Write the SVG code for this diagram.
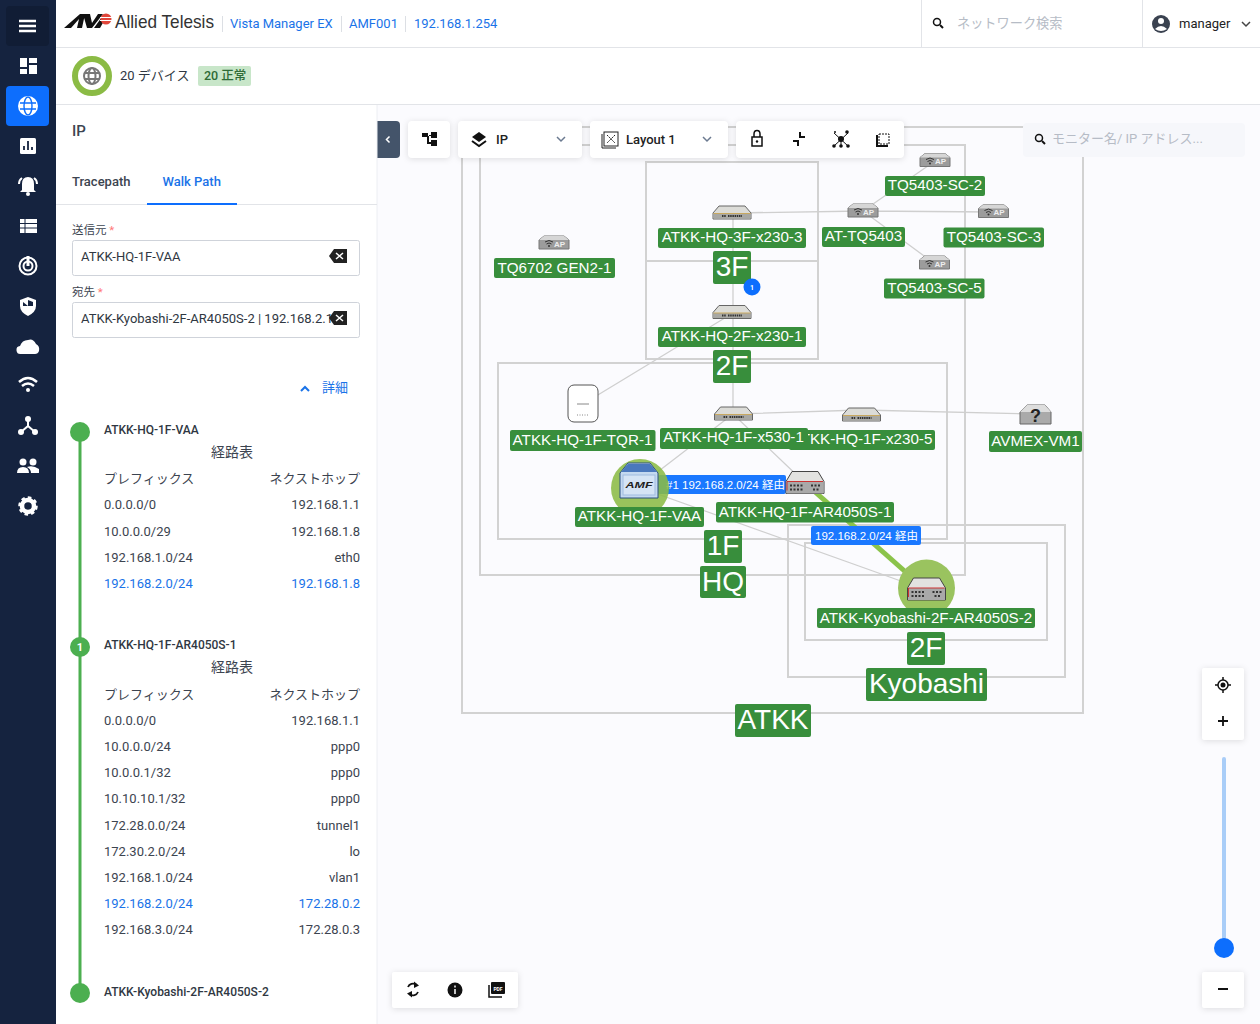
<svg xmlns="http://www.w3.org/2000/svg" xmlns:xlink="http://www.w3.org/1999/xlink" width="1260" height="1024" viewBox="0 0 1260 1024">
<style>
text{font-family:Roboto,"Noto Sans CJK JP",sans-serif}
.n{font-family:"Liberation Sans","Noto Sans CJK JP",sans-serif;font-size:15.2px;fill:#fff;text-anchor:middle}
.b{font-family:"Liberation Sans",sans-serif;font-size:28px;fill:#fff;text-anchor:middle}
.lb{fill:#388e3c}
.grp{fill:none;stroke:#d2d2d2;stroke-width:2}
.e{stroke:#cfcfcf;stroke-width:1.300;fill:none}
.bl{font-family:"Liberation Sans","Noto Sans CJK JP",sans-serif;font-size:11.500px;fill:#fff}
.t{font-size:13px;fill:#3c4450}
.r{font-size:13px;fill:#3c4450;text-anchor:end}
.h{font-size:13px;fill:#3c4450}
.hr{font-size:13px;fill:#3c4450;text-anchor:end}
.hc{font-size:14px;fill:#3c4450;text-anchor:middle}
.a{fill:#1a73e8}
.card{fill:#fff;filter:drop-shadow(0 1px 3px rgba(0,0,0,.12))}
.w{fill:#fff}
.ws{fill:none;stroke:#fff;stroke-width:2}
.d{fill:#111}
.ds{fill:none;stroke:#111;stroke-width:2}
.nm{font-size:12px;font-weight:500;fill:#2f3742}
</style>
<defs>
<g id="sw">
<path d="M-13-7H13L19 0V6H-19V0Z" fill="#dcdcd8" stroke="#666" stroke-width="1"/>
<rect x="-18.500" y="0.500" width="37" height="5" fill="#a8a8a4"/>
<path d="M-18.500 0.500H18.500" stroke="#c8a860" stroke-width="1"/>
<path d="M-10 3H-6M-4 3H10" stroke="#333" stroke-width="2" stroke-dasharray="1.500 .7"/>
</g>
<g id="ap">
<path d="M-10-7H10L15-3V6H-15V-3Z" fill="#9c9c9c" stroke="#777" stroke-width="1"/>
<path d="M-10-7H10L15-3H-15Z" fill="#d6d6d6"/>
<path d="M-9-1Q-5-4-1-1M-7.500 1Q-5-1-2.500 1" stroke="#333" stroke-width="1" fill="none"/><circle cx="-5" cy="3" r="1" fill="#333"/>
<text x="0" y="3.500" font-size="8" font-weight="700" fill="#eee" style="font-family:'Liberation Sans',sans-serif">AP</text>
</g>
<g id="rt">
<path d="M-13-11H13L19-1V11H-19V-1Z" fill="#e2e2e0" stroke="#444" stroke-width="1"/>
<rect x="-18.500" y="-1" width="37" height="12" fill="#a9a9a9"/>
<path d="M-18-1H18M-18-1V8" stroke="#c33" stroke-width="1" fill="none"/>
<path d="M-15 3H-1M-15 7H-1M6 3H15M8 7H15" stroke="#333" stroke-width="2" stroke-dasharray="2 1.500"/>
</g>
<g id="glb" fill="none" stroke-width="2"><circle r="8"/><ellipse rx="3.500" ry="8"/><path d="M-8-3H8M-8 3H8"/></g>
</defs>

<rect width="1260" height="1024" fill="#fbfbfe"/>

<g id="canvas-groups">
<rect class="grp" x="462" y="127" width="621" height="586"/>
<rect class="grp" x="480" y="145" width="485" height="430"/>
<rect class="grp" x="646" y="162" width="172" height="99"/>
<rect class="grp" x="646" y="261" width="172" height="98"/>
<rect class="grp" x="498" y="363" width="449" height="176"/>
<rect class="grp" x="788" y="525" width="277" height="152"/>
<rect class="grp" x="805" y="543" width="242" height="97"/>
</g>

<g id="connectors">
<path class="e" d="M733 213L863 211M733 213V414M863 211L935 161M863 211L993 212M863 211L935 264M733 313L583 404M733 414L861 410L1035 414M733 414L638 487M733 414L805 483"/>
<path d="M638 487L926 590" stroke="#cfcfcf" stroke-width="1.200" fill="none"/>
<path d="M805 483L926 590" stroke="#8bc34a" stroke-width="5" fill="none"/>
</g>

<g id="hop-1"><rect x="658" y="475" width="128" height="19" rx="2" fill="#1a78ff"/><text class="bl" x="666" y="488.500">#1 192.168.2.0/24 経由</text></g>
<circle cx="640" cy="488" r="29" fill="#8bbb45" opacity=".88"/>
<circle cx="926.500" cy="588" r="28.500" fill="#9ac35f"/>

<g id="tq6702"><use xlink:href="#ap" x="554" y="243"/><rect class="lb" x="494" y="258" width="121" height="20" rx="2"/><text class="n" x="554.500" y="272.500">TQ6702 GEN2-1</text></g>
<g id="x230-3"><use xlink:href="#sw" x="732" y="213"/><rect class="lb" x="658" y="228" width="148" height="20" rx="2"/><text class="n" x="732" y="242">ATKK-HQ-3F-x230-3</text></g>
<g id="floor-3f"><rect class="lb" x="713" y="251" width="38" height="33" rx="2"/><text class="b" x="732" y="276">3F</text></g>
<g id="badge-1"><circle cx="752" cy="287" r="8.500" fill="#0d6efd"/><text x="752" y="289.500" font-size="7" font-weight="700" fill="#fff" text-anchor="middle">1</text></g>
<g id="x230-1"><use xlink:href="#sw" x="732" y="312.500"/><rect class="lb" x="658" y="327" width="148" height="20" rx="2"/><text class="n" x="732" y="341">ATKK-HQ-2F-x230-1</text></g>
<g id="floor-2f"><rect class="lb" x="713" y="350" width="38" height="33" rx="2"/><text class="b" x="732" y="375">2F</text></g>
<g id="at-tq5403"><use xlink:href="#ap" x="863" y="211"/><rect class="lb" x="822" y="227" width="83" height="20" rx="2"/><text class="n" x="863.500" y="241">AT-TQ5403</text></g>
<g id="sc-2"><use xlink:href="#ap" x="935" y="160.500"/><rect class="lb" x="885" y="176" width="100" height="20" rx="2"/><text class="n" x="935" y="190">TQ5403-SC-2</text></g>
<g id="sc-3"><use xlink:href="#ap" x="993.500" y="211.500"/><rect class="lb" x="943.500" y="227.500" width="100.500" height="20" rx="2"/><text class="n" x="994" y="241.500">TQ5403-SC-3</text></g>
<g id="sc-5"><use xlink:href="#ap" x="934.500" y="263"/><rect class="lb" x="884" y="278.500" width="100.500" height="20" rx="2"/><text class="n" x="934.500" y="292.500">TQ5403-SC-5</text></g>
<g id="tqr-1"><rect x="568" y="385" width="30" height="37" rx="6" fill="#fff" stroke="#555"/><path d="M577 404H589" stroke="#888"/><path d="M577 415H589" stroke="#888" stroke-dasharray="1 1.500"/><rect class="lb" x="510" y="430" width="145.500" height="21" rx="2"/><text class="n" x="582.500" y="444.500">ATKK-HQ-1F-TQR-1</text></g>
<g id="x230-5"><use xlink:href="#sw" x="861.500" y="415"/><rect class="lb" x="789" y="430" width="146" height="20" rx="2"/><text class="n" x="862" y="444">ATKK-HQ-1F-x230-5</text></g>
<g id="x530-1"><use xlink:href="#sw" x="733.500" y="414"/><rect class="lb" x="660" y="428" width="148" height="21" rx="2"/><text class="n" x="733.500" y="442">ATKK-HQ-1F-x530-1</text></g>
<g id="avmex"><path d="M1027 405H1045L1051 412V424H1020V412Z" fill="#aaa" stroke="#666"/><path d="M1027 405H1045L1051 412H1020Z" fill="#ddd"/><text x="1035.500" y="422" font-size="18" font-weight="700" fill="#222" text-anchor="middle" style="font-family:'Liberation Sans',sans-serif">?</text><rect class="lb" x="989" y="431" width="93" height="21" rx="2"/><text class="n" x="1035.500" y="446">AVMEX-VM1</text></g>
<g id="vaa"><path d="M628 463H650L658 473V498H620V473Z" fill="#c4d9f0" stroke="#2a4f80" stroke-width="1"/><path d="M628 464H650L657 472H621Z" fill="#4a78bd"/><rect x="623" y="475" width="32" height="20" fill="#d5e4f5" stroke="#9fbce0"/><text x="639" y="488" font-size="9" font-weight="700" font-style="italic" fill="#222" text-anchor="middle" textLength="27" lengthAdjust="spacingAndGlyphs" style="font-family:'Liberation Sans',sans-serif">AMF</text><rect class="lb" x="575" y="507" width="129" height="20" rx="2"/><text class="n" x="639.500" y="521">ATKK-HQ-1F-VAA</text></g>
<g id="ar-1"><use xlink:href="#rt" x="805" y="482.500"/><rect class="lb" x="716" y="502" width="178" height="20.500" rx="2"/><text class="n" x="805" y="516.500">ATKK-HQ-1F-AR4050S-1</text></g>
<g id="hop-2"><rect x="811" y="526" width="110" height="19" rx="2" fill="#1a78ff"/><text class="bl" x="815" y="539.500">192.168.2.0/24 経由</text></g>
<g id="floor-1f"><rect class="lb" x="704" y="530" width="38" height="33" rx="2"/><text class="b" x="723" y="555">1F</text></g>
<g id="site-hq"><rect class="lb" x="700" y="566" width="46" height="32" rx="2"/><text class="b" x="723" y="591">HQ</text></g>
<g id="ar-2"><use xlink:href="#rt" x="926.500" y="589"/><rect class="lb" x="817" y="608" width="218" height="20" rx="2"/><text class="n" x="926" y="622.500">ATKK-Kyobashi-2F-AR4050S-2</text></g>
<g id="floor-k2f"><rect class="lb" x="907" y="632" width="38" height="33" rx="2"/><text class="b" x="926" y="657">2F</text></g>
<g id="site-kyobashi"><rect class="lb" x="866" y="668" width="121" height="33" rx="2"/><text class="b" x="926.500" y="693">Kyobashi</text></g>
<g id="site-atkk"><rect class="lb" x="735" y="704" width="76" height="33" rx="2"/><text class="b" x="773" y="729">ATKK</text></g>

<g id="toolbar">
<path d="M376 121H396Q400 121 400 125V154Q400 158 396 158H376Z" fill="#44546a"/>
<path d="M389.500 136.500L386.500 139.500L389.500 142.500" fill="none" stroke="#fff" stroke-width="1.500"/>
<rect class="card" x="408" y="121" width="42" height="37" rx="4"/>
<path d="M422 133H428V136H431V132H437V138H431V135H429V142H431V140H437V146H431V144H427V137H422Z" class="d"/>
<rect class="card" x="458" y="121" width="124" height="37" rx="4"/>
<path d="M479 132L486 137L479 142L472 137Z" class="d"/><path d="M472 141L479 146L486 141" class="ds"/>
<text x="496" y="144" font-size="13" font-weight="500" fill="#222">IP</text>
<path d="M557 137L561 141L565 137" fill="none" stroke="#6b7a90" stroke-width="1.500"/>
<rect class="card" x="590" y="121" width="138" height="37" rx="4"/>
<rect x="604" y="132" width="14" height="14" fill="#fff" stroke="#222"/><path d="M602 134V148H616" fill="none" stroke="#222"/><path d="M607 135L615 143M615 135L607 143" stroke="#222" stroke-dasharray="2 1"/>
<text x="626" y="144" font-size="13" font-weight="500" fill="#222">Layout 1</text>
<path d="M703 137L707 141L711 137" fill="none" stroke="#6b7a90" stroke-width="1.500"/>
<rect class="card" x="736" y="121" width="168" height="37" rx="4"/>
<rect x="752" y="137" width="10" height="9" fill="none" stroke="#111" stroke-width="1.500"/><path d="M754 137V134Q754 130.500 757 130.500Q760 130.500 760 134V137" fill="none" stroke="#111" stroke-width="1.500"/><circle cx="757" cy="141.500" r="1.200" class="d"/>
<path d="M793 141H798V146M805 137H800V132" fill="none" stroke="#111" stroke-width="2"/>
<path d="M834 133L848 146M848 133L834 146M841 139V146" stroke="#111" stroke-width="1"/><circle cx="841" cy="139" r="3" class="d"/><circle cx="834" cy="146" r="1.800" class="d"/><circle cx="847" cy="132" r="1.800" class="d"/><circle cx="835" cy="132" r="1" class="d"/><circle cx="848" cy="146" r="1.800" class="d"/><circle cx="841" cy="146" r="1.800" class="d"/>
<rect x="879" y="134" width="10" height="10" fill="none" stroke="#111" stroke-dasharray="2 1"/><path d="M877 135V146H888" fill="none" stroke="#111" stroke-width="2"/>
<g id="map-search"><rect x="1023" y="123" width="222" height="34" rx="4" fill="#f6f7fb"/>
<circle cx="1039" cy="138" r="3.500" fill="none" stroke="#111" stroke-width="1.500"/><path d="M1042 141L1045 144" stroke="#111" stroke-width="2"/>
<text x="1052" y="143" font-size="13" fill="#b6bcc6">モニター名/ IP アドレス...</text></g>
</g>

<g id="zoom-controls">
<rect class="card" x="1202" y="668" width="42" height="72" rx="2"/>
<circle cx="1223" cy="685" r="5" fill="none" stroke="#111" stroke-width="1.500"/><circle cx="1223" cy="685" r="2.500" class="d"/><path d="M1223 677V680M1223 690V693M1215 685H1218M1228 685H1231" stroke="#111" stroke-width="1.500"/>
<path d="M1218 721H1228M1223 716V726" stroke="#111" stroke-width="1.800"/>
<rect x="1222" y="757" width="4" height="185" rx="2" fill="#a9cdf8"/>
<circle cx="1224" cy="948" r="10" fill="#0d6efd"/>
<rect class="card" x="1202" y="972" width="42" height="36" rx="2"/>
<path d="M1218 989H1228" stroke="#111" stroke-width="2"/>
</g>
<g id="bottom-tools">
<rect class="card" x="392" y="972" width="126" height="36" rx="2"/>
<path d="M408 987A5.500 5.500 0 0 1 416 984.500M418 992A5.500 5.500 0 0 1 410 994.500" fill="none" stroke="#111" stroke-width="1.800" transform="translate(0 0)"/><path d="M414 981.500L419 985.500L414 988Z" class="d"/><path d="M412 997.500L407 993.500L412 991Z" class="d"/>
<circle cx="455" cy="990" r="7.500" class="d"/><path d="M455 989V994M455 985.500V987.500" stroke="#fff" stroke-width="1.500"/>
<rect x="491" y="982" width="14" height="12" rx="1" class="d"/><path d="M489 985V997H502" fill="none" stroke="#111" stroke-width="1.500"/><text x="498" y="990.500" font-size="5" font-weight="700" fill="#fff" text-anchor="middle">PDF</text>
</g>

<g id="left-panel">
<rect x="56" y="105" width="321" height="919" fill="#fff"/>
<path d="M377 105V1024" stroke="#eceef2"/>
<text x="72" y="136" font-size="15" font-weight="500" fill="#3c4450">IP</text>
<text x="72" y="186" font-size="13" font-weight="500" fill="#3c4450">Tracepath</text>
<text x="162.500" y="186" font-size="13" font-weight="500" fill="#1a73e8">Walk Path</text>
<path d="M56 204.500H377" stroke="#e2e4e8"/>
<rect x="147" y="203" width="90" height="2" fill="#0d6efd"/>
<text x="72" y="234" font-size="11.500" fill="#3c4450">送信元 <tspan fill="#f77">*</tspan></text>
<rect x="72.500" y="240.500" width="287" height="35" rx="2" fill="#fff" stroke="#cfd3da"/>
<text x="81" y="261" font-size="13" fill="#2f3742">ATKK-HQ-1F-VAA</text>
<path d="M334 249H347V263H334L329 256Z" fill="#222"/><path d="M336 253L343 259M343 253L336 259" stroke="#fff" stroke-width="1.500"/>
<text x="72" y="296" font-size="11.500" fill="#3c4450">宛先 <tspan fill="#f77">*</tspan></text>
<rect x="72.500" y="302.500" width="287" height="35" rx="2" fill="#fff" stroke="#cfd3da"/>
<text x="81" y="323" font-size="13" fill="#2f3742">ATKK-Kyobashi-2F-AR4050S-2 | 192.168.2.1</text>
<path d="M334 311H347V325H334L329 318Z" fill="#222"/><path d="M336 315L343 321M343 315L336 321" stroke="#fff" stroke-width="1.500"/>
<path d="M301 391L305 387L309 391" fill="none" stroke="#1a73e8" stroke-width="2"/>
<text x="322" y="392" font-size="13" fill="#1a73e8">詳細</text>

<path d="M80 432V993" stroke="#4caf50" stroke-width="3"/>
<circle cx="80" cy="432" r="10" fill="#4caf50"/>
<circle cx="80" cy="647" r="10" fill="#4caf50"/><text x="80" y="651" font-size="11" font-weight="700" fill="#fff" text-anchor="middle">1</text>
<circle cx="80" cy="993" r="10" fill="#4caf50"/>

<text class="nm" x="104" y="434">ATKK-HQ-1F-VAA</text>
<text class="hc" x="232" y="457">経路表</text>
<text class="h" x="104" y="483">プレフィックス</text><text class="hr" x="360" y="483">ネクストホップ</text>
<text class="t" x="104" y="509">0.0.0.0/0</text><text class="r" x="360" y="509">192.168.1.1</text>
<text class="t" x="104" y="536">10.0.0.0/29</text><text class="r" x="360" y="536">192.168.1.8</text>
<text class="t" x="104" y="562">192.168.1.0/24</text><text class="r" x="360" y="562">eth0</text>
<text class="t a" x="104" y="588">192.168.2.0/24</text><text class="r a" x="360" y="588">192.168.1.8</text>

<text class="nm" x="104" y="649">ATKK-HQ-1F-AR4050S-1</text>
<text class="hc" x="232" y="672">経路表</text>
<text class="h" x="104" y="699">プレフィックス</text><text class="hr" x="360" y="699">ネクストホップ</text>
<text class="t" x="104" y="725">0.0.0.0/0</text><text class="r" x="360" y="725">192.168.1.1</text>
<text class="t" x="104" y="751">10.0.0.0/24</text><text class="r" x="360" y="751">ppp0</text>
<text class="t" x="104" y="777">10.0.0.1/32</text><text class="r" x="360" y="777">ppp0</text>
<text class="t" x="104" y="803">10.10.10.1/32</text><text class="r" x="360" y="803">ppp0</text>
<text class="t" x="104" y="830">172.28.0.0/24</text><text class="r" x="360" y="830">tunnel1</text>
<text class="t" x="104" y="856">172.30.2.0/24</text><text class="r" x="360" y="856">lo</text>
<text class="t" x="104" y="882">192.168.1.0/24</text><text class="r" x="360" y="882">vlan1</text>
<text class="t a" x="104" y="908">192.168.2.0/24</text><text class="r a" x="360" y="908">172.28.0.2</text>
<text class="t" x="104" y="934">192.168.3.0/24</text><text class="r" x="360" y="934">172.28.0.3</text>
<text class="nm" x="104" y="996">ATKK-Kyobashi-2F-AR4050S-2</text>
</g>

<g id="status-bar">
<rect x="56" y="48" width="1204" height="57" fill="#fff"/>
<path d="M56 104.500H1260" stroke="#e2e4e8"/>
<circle cx="92" cy="76" r="17" fill="#fff" stroke="#8bbb45" stroke-width="6"/>
<use xlink:href="#glb" x="92" y="76" stroke="#777"/>
<text x="120" y="80" font-size="13" fill="#2f3742">20 デバイス</text>
<rect x="198" y="66" width="53" height="20" rx="2" fill="#c8e6c9"/>
<text x="204" y="80" font-size="12.500" font-weight="500" fill="#2e6b36">20 正常</text>
</g>

<g id="header">
<rect x="56" width="1204" height="47" fill="#fff"/>
<path d="M56 47.500H1260" stroke="#e2e4e8"/>
<path d="M64 28L80 14H85L82 28H77L79 19L71 28ZM83 14H90L92 23L98 14H103L92 28H87ZM94 28L104 14H108L100 28Z" fill="#111"/>
<circle cx="106" cy="19" r="5.500" fill="#e0453a"/><path d="M100 17.500H112M100 20.500H112" stroke="#fff"/>
<text x="115" y="28" font-size="19" fill="#333" textLength="99" lengthAdjust="spacingAndGlyphs" style="font-family:'Liberation Sans',sans-serif">Allied Telesis</text>
<path d="M222.500 16V32M341.500 16V32M405.500 16V32" stroke="#dcdfe4"/>
<text x="230" y="28" font-size="13" fill="#1a73e8">Vista Manager EX</text>
<text x="349" y="28" font-size="13" fill="#1a73e8">AMF001</text>
<text x="414" y="28" font-size="13" fill="#1a73e8">192.168.1.254</text>
<path d="M921.500 0V47M1142.500 0V47" stroke="#e2e4e8"/>
<circle cx="937" cy="22" r="3.500" fill="none" stroke="#111" stroke-width="1.500"/><path d="M940 25L943 28" stroke="#111" stroke-width="2"/>
<text x="957" y="28" font-size="13.200" fill="#b6bcc6">ネットワーク検索</text>
<circle cx="1161" cy="24" r="9" fill="#3a4250"/><circle cx="1161" cy="21" r="3" fill="#fff"/><path d="M1155 29Q1161 23 1167 29Q1161 33 1155 29Z" fill="#fff"/>
<text x="1179" y="28" font-size="13" font-weight="400" fill="#222">manager</text>
<path d="M1242 22L1246 26L1250 22" fill="none" stroke="#444" stroke-width="1.500"/>
</g>

<g id="sidebar">
<rect width="56" height="1024" fill="#15233f"/>
<rect x="6" y="6" width="43" height="40" rx="4" fill="#111d35"/>
<path d="M19 21H36M19 26H36M19 31H36" stroke="#fff" stroke-width="2.500"/>
<path d="M20 58H27V67H20ZM29 58H37V63H29ZM20 69H27V74H20ZM29 65H37V74H29Z" class="w"/>
<rect x="6" y="86" width="43" height="40" rx="4" fill="#0d6efd"/>
<circle cx="28" cy="106" r="10" fill="#fff"/><g fill="none" stroke="#0d6efd" stroke-width="1.400"><ellipse cx="28" cy="106" rx="4" ry="9"/><path d="M20 103H36M20 109H36"/></g>
<rect x="20" y="138" width="16" height="16" rx="1.500" class="w"/><path d="M24 150V146M28 150V141M32 150V147" stroke="#15233f" stroke-width="1.800"/>
<path d="M28 177Q34 177 34 184V190L36 192H20L22 190V184Q22 177 28 177Z" class="w"/><circle cx="28" cy="194" r="2" class="w"/><path d="M19 184Q19 180 22 178M37 184Q37 180 34 178" class="ws"/>
<rect x="20" y="219" width="17" height="14" class="w"/><path d="M20 223.500H37M20 228H37M25 219V233" stroke="#15233f"/>
<circle cx="28" cy="266" r="8.500" class="ws"/><circle cx="28" cy="266" r="4.500" class="ws"/><path d="M28 256V266" stroke="#fff" stroke-width="3"/>
<path d="M28 297L36 300V306Q36 312 28 316Q20 312 20 306V300Z" class="w"/><path d="M28 300L33 302V306H28ZM28 306H23V302" fill="#15233f"/>
<path d="M21 354A4 4 0 0 1 20 346Q22 340 28 340Q33 338 36 344Q40 346 39 351Q38 354 35 354Z" class="w"/>
<path d="M19 382Q28 374 37 382M22 386Q28 381 34 386" fill="none" stroke="#fff" stroke-width="2.500"/><circle cx="28" cy="390" r="2" class="w"/>
<circle cx="28" cy="419" r="3" class="w"/><circle cx="21" cy="432" r="3" class="w"/><circle cx="35" cy="432" r="3" class="w"/><path d="M28 419V426L21 432M28 426L35 432" class="ws"/>
<circle cx="23" cy="462" r="3.500" class="w"/><circle cx="33" cy="462" r="3.500" class="w"/><path d="M17 473Q17 467 23 467Q29 467 29 473ZM27 467Q33 465 39 469V473H31Q31 469 27 467Z" class="w"/>
<circle cx="28" cy="506" r="6" fill="none" stroke="#fff" stroke-width="4.500"/><circle cx="28" cy="506" r="8.500" fill="none" stroke="#fff" stroke-width="2.500" stroke-dasharray="3.500 3.100"/>
</g>
</svg>
